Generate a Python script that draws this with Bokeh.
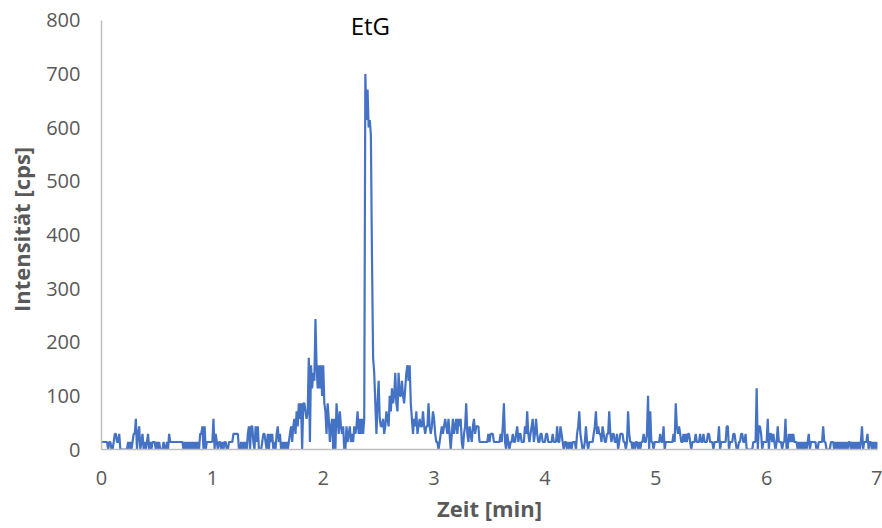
import numpy as np
from bokeh.plotting import figure
from bokeh.models import Range1d, FixedTicker, Label, ColumnDataSource
from bokeh.embed import file_html
from bokeh.resources import INLINE

# time axis: one sample every 0.01 min from 0 to 7 min
step_min = 0.01
n_samples = 701

# intensity [cps] (rows of 0.1 min)
intensity = [
    14, 14, 14, 14, 14, 14, 0, 14, 14, 0,          # 0.0
    0, 14, 29, 29, 14, 14, 29, 0, 0, 0,            # 0.1
    0, 0, 0, 0, 14, 0, 14, 0, 14, 29,              # 0.2
    29, 57, 0, 29, 43, 0, 14, 29, 0, 14,           # 0.3
    0, 14, 29, 0, 14, 0, 14, 14, 14, 0,            # 0.4
    14, 0, 14, 0, 0, 0, 14, 0, 0, 14,              # 0.5
    0, 29, 14, 14, 14, 14, 14, 14, 14, 14,         # 0.6
    14, 14, 14, 14, 0, 14, 0, 14, 0, 14,           # 0.7
    0, 14, 0, 14, 0, 14, 0, 14, 0, 29,             # 0.8
    29, 43, 0, 43, 0, 14, 14, 14, 14, 14,          # 0.9
    14, 57, 0, 29, 14, 0, 14, 14, 0, 14,           # 1.0
    0, 14, 14, 0, 0, 14, 14, 14, 14, 29,           # 1.1
    29, 29, 29, 29, 0, 0, 14, 0, 14, 0,            # 1.2
    14, 0, 29, 43, 0, 43, 43, 14, 0, 43,           # 1.3
    14, 43, 0, 0, 0, 14, 29, 29, 14, 0,            # 1.4
    29, 0, 29, 14, 29, 0, 14, 0, 29, 43,           # 1.5
    14, 29, 0, 14, 0, 14, 0, 14, 0, 14,            # 1.6
    29, 43, 14, 43, 57, 29, 71, 43, 86, 57,        # 1.7
    86, 0, 86, 86, 71, 57, 71, 171, 14, 157,       # 1.8
    114, 143, 128, 243, 157, 114, 157, 114, 157, 100,  # 1.9
    157, 86, 71, 29, 86, 57, 14, 43, 57, 0,        # 2.0
    57, 0, 86, 57, 29, 71, 43, 29, 43, 0,          # 2.1
    0, 43, 14, 29, 43, 14, 29, 14, 43, 29,         # 2.2
    43, 71, 29, 57, 29, 57, 29, 57, 700, 614,      # 2.3
    671, 600, 614, 586, 357, 171, 143, 86, 29, 86, # 2.4
    128, 57, 43, 43, 57, 29, 43, 71, 57, 43,       # 2.5
    100, 71, 114, 86, 100, 143, 86, 71, 143, 100,  # 2.6
    100, 128, 100, 86, 114, 143, 157, 128, 157, 86,  # 2.7
    57, 29, 57, 43, 71, 29, 43, 57, 43, 43,        # 2.8
    71, 43, 29, 43, 43, 86, 43, 29, 43, 71,        # 2.9
    57, 29, 14, 14, 0, 14, 29, 43, 29, 43,         # 3.0
    57, 43, 29, 57, 29, 0, 29, 57, 29, 43,         # 3.1
    57, 29, 57, 43, 57, 14, 0, 29, 43, 86,         # 3.2
    29, 14, 43, 29, 14, 43, 57, 29, 43, 43,        # 3.3
    43, 14, 14, 14, 14, 14, 14, 14, 14, 29,        # 3.4
    14, 29, 29, 29, 14, 14, 14, 14, 14, 14,        # 3.5
    29, 14, 43, 86, 14, 0, 29, 14, 0, 14,          # 3.6
    14, 29, 14, 14, 29, 43, 14, 29, 29, 14,        # 3.7
    14, 14, 43, 29, 71, 29, 14, 29, 43, 57,        # 3.8
    14, 29, 57, 29, 14, 14, 29, 29, 14, 14,        # 3.9
    14, 29, 29, 14, 14, 14, 14, 29, 14, 14,        # 4.0
    14, 43, 14, 14, 43, 29, 14, 0, 14, 14,         # 4.1
    0, 14, 0, 14, 0, 14, 14, 14, 0, 29,            # 4.2
    43, 71, 29, 14, 0, 0, 14, 43, 14, 0,           # 4.3
    14, 14, 14, 14, 29, 43, 71, 29, 43, 29,        # 4.4
    29, 14, 43, 29, 14, 14, 29, 29, 71, 29,        # 4.5
    14, 29, 29, 14, 14, 29, 0, 14, 29, 29,         # 4.6
    29, 14, 14, 0, 14, 71, 29, 14, 14, 0,          # 4.7
    14, 0, 14, 14, 0, 14, 0, 14, 14, 29,           # 4.8
    14, 14, 29, 100, 0, 71, 14, 14, 0, 14,         # 4.9
    14, 14, 14, 14, 29, 14, 14, 43, 0, 14,         # 5.0
    14, 14, 14, 14, 14, 14, 29, 14, 86, 43,        # 5.1
    29, 43, 29, 14, 14, 29, 14, 29, 14, 29,        # 5.2
    29, 14, 0, 14, 14, 14, 29, 14, 14, 14,         # 5.3
    29, 14, 14, 29, 14, 14, 14, 29, 29, 14,        # 5.4
    14, 14, 0, 14, 14, 14, 14, 43, 0, 14,          # 5.5
    14, 14, 14, 14, 43, 43, 0, 14, 14, 14,         # 5.6
    29, 29, 14, 0, 0, 14, 14, 29, 29, 14,          # 5.7
    14, 29, 0, 0, 0, 0, 0, 0, 14, 14,              # 5.8
    14, 114, 0, 43, 43, 29, 0, 14, 14, 14,         # 5.9
    14, 57, 0, 29, 29, 14, 29, 14, 0, 14,          # 6.0
    43, 14, 14, 14, 0, 14, 14, 57, 0, 0,           # 6.1
    29, 14, 29, 14, 29, 14, 14, 14, 0, 14,         # 6.2
    0, 14, 0, 14, 0, 14, 0, 14, 29, 0,             # 6.3
    14, 14, 14, 14, 14, 0, 0, 14, 14, 14,          # 6.4
    14, 43, 14, 14, 0, 0, 0, 0, 14, 14,            # 6.5
    14, 0, 14, 0, 14, 0, 14, 0, 14, 0,             # 6.6
    14, 0, 14, 0, 14, 14, 0, 14, 0, 14,            # 6.7
    0, 14, 0, 14, 0, 14, 43, 0, 14, 14,            # 6.8
    14, 29, 0, 14, 14, 0, 14, 0, 14, 0,            # 6.9
    14,                                            # 7.0
]

x_ticks = [0, 1, 2, 3, 4, 5, 6, 7]
y_ticks = [0, 100, 200, 300, 400, 500, 600, 700, 800]
x_title = "Zeit [min]"
y_title = "Intensität [cps]"
peak_name = "EtG"

times = np.round(np.arange(n_samples) * step_min, 2)[: len(intensity)]
src = ColumnDataSource(dict(t=times, y=intensity))

# a little head room above 800 so the peak label is not clipped;
# the y axis line itself stops at 800
p = figure(width=882, height=528, output_backend="svg", toolbar_location=None,
           x_range=Range1d(0, 7), y_range=Range1d(0, 820),
           min_border_left=101, min_border_right=5, min_border_top=9, min_border_bottom=79)
p.outline_line_color = None
p.xgrid.grid_line_color = None
p.ygrid.grid_line_color = None
p.background_fill_color = "white"
p.border_fill_color = "white"

p.line("t", "y", source=src, line_color="#4472C4", line_width=2.2)

label_color = "#595959"
for ax in (p.xaxis[0], p.yaxis[0]):
    ax.axis_line_color = "#BFBFBF"
    ax.axis_line_width = 1.5
    ax.major_tick_line_color = None
    ax.minor_tick_line_color = None
    ax.major_label_text_font = "Open Sans"
    ax.major_label_text_font_size = "20px"
    ax.major_label_text_color = label_color
    ax.axis_label_text_font = "Open Sans"
    ax.axis_label_text_font_size = "22px"
    ax.axis_label_text_font_style = "bold"
    ax.axis_label_text_color = label_color

p.xaxis.ticker = FixedTicker(ticks=x_ticks)
p.yaxis.ticker = FixedTicker(ticks=y_ticks)
p.yaxis.bounds = (y_ticks[0], y_ticks[-1])
p.xaxis.axis_label = x_title
p.yaxis.axis_label = y_title
p.xaxis.major_label_standoff = 15
p.yaxis.major_label_standoff = 15
p.xaxis.axis_label_standoff = 5
p.yaxis.axis_label_standoff = 7

i_peak = int(np.argmax(intensity))
p.add_layout(Label(x=times[i_peak], y=y_ticks[-1], text=peak_name, x_offset=5, y_offset=-5,
                   text_align="center", text_baseline="middle",
                   text_font="Open Sans", text_font_size="24px", text_color="#000000"))

open("out.html", "w").write(file_html(p, INLINE))
